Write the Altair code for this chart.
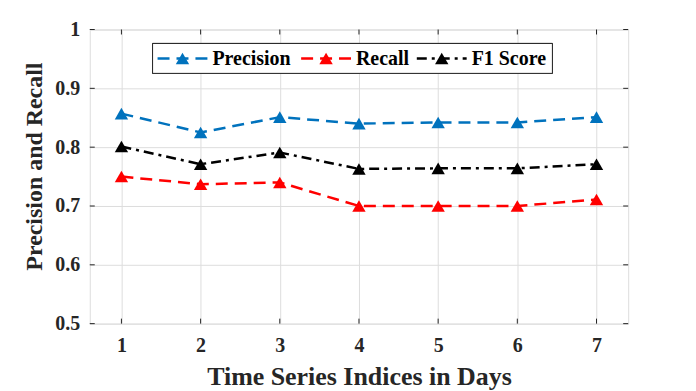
import altair as alt
import pandas as pd

days = [1, 2, 3, 4, 5, 6, 7]
precision = [0.857, 0.825, 0.851, 0.840, 0.842, 0.842, 0.851]
recall = [0.750, 0.737, 0.740, 0.700, 0.700, 0.700, 0.711]
f1_score = [0.801, 0.771, 0.791, 0.763, 0.764, 0.764, 0.771]
series_names = ["Precision", "Recall", "F1 Score"]
x_ticks = [1, 2, 3, 4, 5, 6, 7]
y_ticks = [0.5, 0.6, 0.7, 0.8, 0.9, 1.0]

colors = ["#0072BD", "#FF0000", "#000000"]
dashes = [[12, 7], [12, 7], [10, 5, 3, 5]]
FONT = "Liberation Serif"
W, H = 540, 295

rows = []
for name, vals in zip(series_names, [precision, recall, f1_score]):
    for d, v in zip(days, vals):
        rows.append({"day": d, "value": v, "series": name})
df = pd.DataFrame(rows)

xs = alt.Scale(domain=[0.6, 7.4], nice=False, zero=False)
ys = alt.Scale(domain=[0.5, 1.0], nice=False, zero=False)
cs = alt.Scale(domain=series_names, range=colors)
ds = alt.Scale(domain=series_names, range=dashes)

x_enc = alt.X("day:Q", scale=xs, axis=alt.Axis(
    values=x_ticks, format="d", title="Time Series Indices in Days", ticks=False, domain=False,
    labelPadding=12, labelFont=FONT, labelFontSize=20, labelFontWeight="bold",
    labelColor="#262626", titleFont=FONT, titleFontSize=26, titleFontWeight="bold",
    titleColor="#262626", titleBaseline="alphabetic", titleY=61,
    gridColor="#DDDDDD", gridWidth=1))
y_enc = alt.Y("value:Q", scale=ys, axis=alt.Axis(
    values=y_ticks, format=".1~f", title="Precision and Recall", ticks=False, domain=False,
    labelPadding=10, labelFont=FONT, labelFontSize=20, labelFontWeight="bold",
    labelColor="#262626", titleFont=FONT, titleFontSize=24, titleFontWeight="bold",
    titleColor="#262626", titleBaseline="alphabetic", titleX=-48, titleY=137,
    titleAngle=-90, gridColor="#DDDDDD", gridWidth=1))

base = alt.Chart(df)
lines = base.mark_line(strokeWidth=2.5).encode(
    x=x_enc, y=y_enc,
    color=alt.Color("series:N", scale=cs, legend=None),
    strokeDash=alt.StrokeDash("series:N", scale=ds, legend=None),
)
points = base.mark_point(shape="triangle-up", filled=True, size=180, opacity=1).encode(
    x=alt.X("day:Q", scale=xs), y=alt.Y("value:Q", scale=ys),
    color=alt.Color("series:N", scale=cs, legend=None),
)

# inward ticks on all four sides
xt = pd.DataFrame({"v": x_ticks})
yt = pd.DataFrame({"v": y_ticks})
tick_color = "#262626"
xt_bottom = alt.Chart(xt).mark_rule(color=tick_color).encode(
    x=alt.X("v:Q", scale=xs), y=alt.value(H), y2=alt.value(H - 5))
xt_top = alt.Chart(xt).mark_rule(color=tick_color).encode(
    x=alt.X("v:Q", scale=xs), y=alt.value(0), y2=alt.value(5))
yt_left = alt.Chart(yt).mark_rule(color=tick_color).encode(
    y=alt.Y("v:Q", scale=ys), x=alt.value(0), x2=alt.value(5))
yt_right = alt.Chart(yt).mark_rule(color=tick_color).encode(
    y=alt.Y("v:Q", scale=ys), x=alt.value(W), x2=alt.value(W - 5))

# legend (manual, MATLAB style)
leg = pd.DataFrame({
    "series": series_names,
    "x0": [68, 212, 328],
})
leg["x1"] = leg["x0"] + 50
leg["xm"] = leg["x0"] + 25
leg["xt"] = leg["x1"] + 5
leg_y = 29
leg_box = alt.Chart(leg).mark_rect(fill="white", stroke="#262626", strokeWidth=1).encode(
    x=alt.value(63), x2=alt.value(464), y=alt.value(14), y2=alt.value(44))
leg_lines = alt.Chart(leg).mark_rule(strokeWidth=2.5).encode(
    x=alt.X("x0:Q", scale=None), x2="x1:Q", y=alt.value(leg_y),
    color=alt.Color("series:N", scale=cs, legend=None),
    strokeDash=alt.StrokeDash("series:N", scale=ds, legend=None),
)
leg_pts = alt.Chart(leg).mark_point(shape="triangle-up", filled=True, size=180, opacity=1).encode(
    x=alt.X("xm:Q", scale=None), y=alt.value(leg_y),
    color=alt.Color("series:N", scale=cs, legend=None),
)
leg_text = alt.Chart(leg).mark_text(
    font=FONT, fontSize=20, fontWeight="bold", align="left", baseline="alphabetic",
    color="black").encode(
    x=alt.X("xt:Q", scale=None), y=alt.value(leg_y + 7), text="series:N")

chart = alt.layer(
    lines, points, xt_bottom, xt_top, yt_left, yt_right,
    leg_box, leg_lines, leg_pts, leg_text,
).properties(
    width=W, height=H,
    autosize=alt.AutoSizeParams(type="none"),
    padding={"left": 82, "top": 21, "right": 60, "bottom": 70},
).configure_view(stroke="#262626", strokeWidth=1).configure(background="white")

chart.save("out.html", embed_options={"renderer": "svg", "actions": False})
